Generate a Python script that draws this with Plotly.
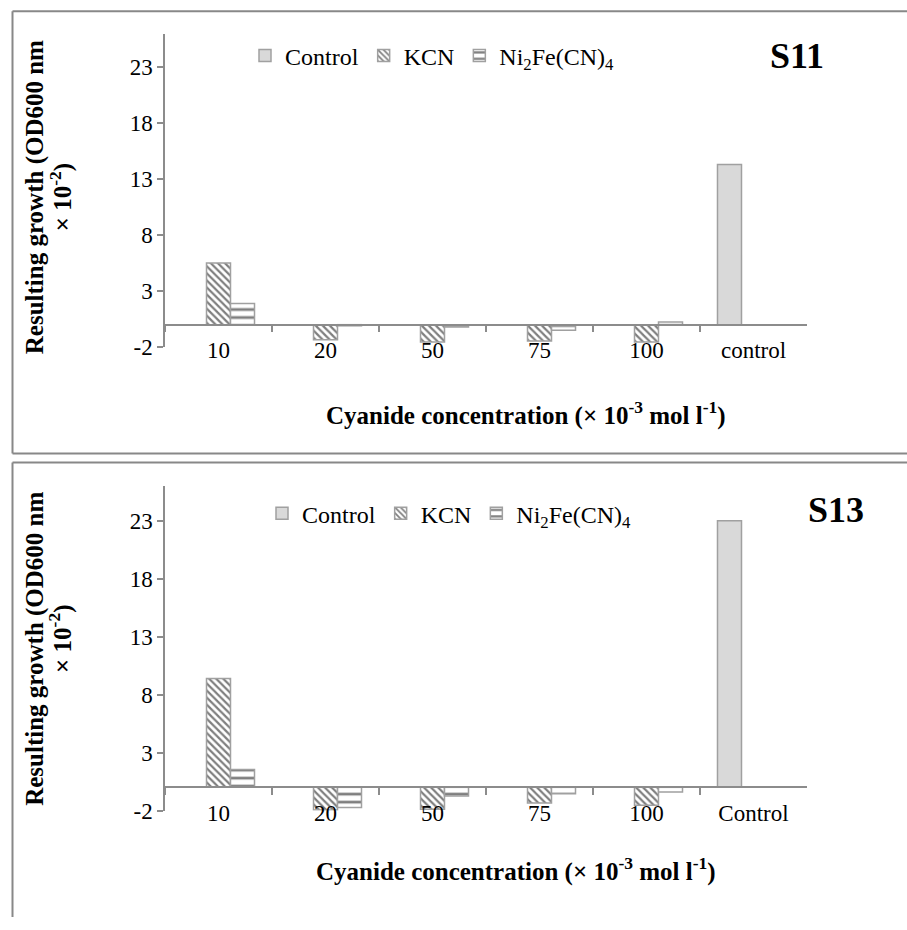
import plotly.graph_objects as go

# ---------------- data ----------------
categories_s11 = ["10", "20", "50", "75", "100", "control"]
categories_s13 = ["10", "20", "50", "75", "100", "Control"]

control_s11 = [None, None, None, None, None, 14.3]
kcn_s11 = [5.5, -1.35, -1.55, -1.45, -1.55, None]
ni_s11 = [1.9, -0.1, -0.2, -0.5, 0.25, None]

control_s13 = [None, None, None, None, None, 23.0]
kcn_s13 = [9.4, -1.95, -1.9, -1.35, -1.55, None]
ni_s13 = [1.55, -1.75, -0.75, -0.55, -0.4, None]

y_ticks = [-2, 3, 8, 13, 18, 23]
y_tick_labels = ["-2", "3", "8", "13", "18", "23"]
y_range = [-2, 26]

series_names = ["Control", "KCN", "Ni<sub>2</sub>Fe(CN)<sub>4</sub>"]

# ---------------- layout helpers ----------------
W, H = 907, 930
FONT = "Liberation Serif"
GRAY = "#a0a0a0"
AXGRAY = "#8c8c8c"


def px_x(p):
    return p / W


def px_y(p):
    return 1 - p / H


x_dom = [px_x(165), px_x(807)]
top_dom = [px_y(352), px_y(34)]
bot_dom = [px_y(822), px_y(493)]


def zero_pos(dom):
    return dom[0] + (0 - y_range[0]) / (y_range[1] - y_range[0]) * (dom[1] - dom[0])


fig = go.Figure()


def add_series(cats, ctrl, kcn, ni, xa, ya, legend):
    fig.add_trace(go.Bar(
        x=cats, y=ctrl, name=series_names[0], xaxis=xa, yaxis=ya, legend=legend,
        marker=dict(color="#d9d9d9", line=dict(color=GRAY, width=1.5))))
    fig.add_trace(go.Bar(
        x=cats, y=kcn, name=series_names[1], xaxis=xa, yaxis=ya, legend=legend,
        marker=dict(color="white", line=dict(color=GRAY, width=1.5),
                    pattern=dict(shape="\\", fgcolor="black", bgcolor="white",
                                 size=5, solidity=0.45))))
    fig.add_trace(go.Bar(
        x=cats, y=ni, name=series_names[2], xaxis=xa, yaxis=ya, legend=legend,
        marker=dict(color="white", line=dict(color=GRAY, width=1.5),
                    pattern=dict(shape="-", fgcolor="black", bgcolor="white",
                                 size=8, solidity=0.35))))


add_series(categories_s11, control_s11, kcn_s11, ni_s11, "x", "y", "legend")
add_series(categories_s13, control_s13, kcn_s13, ni_s13, "x2", "y2", "legend2")

TICKFONT = dict(family=FONT, size=23, color="black")

xaxis_common = dict(
    type="category", tickson="boundaries", ticks="outside", ticklen=7,
    tickcolor=AXGRAY, tickwidth=1.5, showline=True, linecolor=AXGRAY, linewidth=1.5,
    showgrid=False, zeroline=False, anchor="free", domain=x_dom,
    tickfont=TICKFONT, ticklabelstandoff=5,
)
yaxis_common = dict(
    range=y_range, tickvals=y_ticks, ticktext=y_tick_labels, ticks="outside",
    ticklen=6, tickcolor=AXGRAY, tickwidth=1.5, showline=True, linecolor=AXGRAY,
    linewidth=1.5, showgrid=False, zeroline=False, tickfont=TICKFONT,
)

LEGFONT = dict(family=FONT, size=24, color="black")

BORDER = dict(color="#888888", width=2)
border_lines = [
    # top panel box
    dict(x0=12.5, y0=11.5, x1=907, y1=11.5),
    dict(x0=12.5, y0=11.5, x1=12.5, y1=460),
    dict(x0=12.5, y0=460, x1=907, y1=460),
    # bottom panel box (open at right and bottom)
    dict(x0=12.5, y0=469, x1=907, y1=469),
    dict(x0=12.5, y0=469, x1=12.5, y1=930),
]
shapes = [dict(type="line", xref="paper", yref="paper",
               x0=px_x(b["x0"]), x1=px_x(b["x1"]), y0=px_y(b["y0"]), y1=px_y(b["y1"]),
               line=BORDER) for b in border_lines]

fig.update_layout(
    width=W, height=H,
    margin=dict(l=0, r=0, t=0, b=0),
    paper_bgcolor="white", plot_bgcolor="rgba(0,0,0,0)",
    barmode="group", bargap=0.327, bargroupgap=0,
    font=dict(family=FONT, color="black"),
    xaxis=dict(**xaxis_common, position=zero_pos(top_dom)),
    yaxis=dict(**yaxis_common, domain=top_dom, anchor="x"),
    xaxis2=dict(**xaxis_common, position=zero_pos(bot_dom)),
    yaxis2=dict(**yaxis_common, domain=bot_dom, anchor="x2"),
    legend=dict(orientation="h", x=px_x(245), y=px_y(34), xanchor="left", yanchor="top",
                font=LEGFONT, bgcolor="rgba(0,0,0,0)", traceorder="normal"),
    legend2=dict(orientation="h", x=px_x(262), y=px_y(498), xanchor="left", yanchor="top",
                 font=LEGFONT, bgcolor="rgba(0,0,0,0)", traceorder="normal"),
    shapes=shapes,
)

ytitle1 = "<b>Resulting growth (OD600 nm</b>"
ytitle2 = "<b>× 10<sup>-2</sup>)</b>"
xtitle = "<b>Cyanide concentration (× 10<sup>-3</sup> mol l<sup>-1</sup>)</b>"
TITLEFONT = dict(family=FONT, size=25, color="black")
annots = [
    dict(text=ytitle1, x=px_x(35), y=px_y(200), textangle=-90),
    dict(text=ytitle2, x=px_x(61), y=px_y(200), textangle=-90),
    dict(text=ytitle1, x=px_x(35), y=px_y(658), textangle=-90),
    dict(text=ytitle2, x=px_x(61), y=px_y(648), textangle=-90),
    dict(text=xtitle, x=px_x(526), y=px_y(419)),
    dict(text=xtitle, x=px_x(516), y=px_y(882)),
    dict(text="<b>S11</b>", x=px_x(797), y=px_y(57), font=dict(family=FONT, size=36, color="black")),
    dict(text="<b>S13</b>", x=px_x(836), y=px_y(517), font=dict(family=FONT, size=36, color="black")),
]
for a in annots:
    a.setdefault("font", TITLEFONT)
    fig.add_annotation(xref="paper", yref="paper", showarrow=False,
                       xanchor="center", yanchor="middle", **a)

fig.write_html("out.html", config={"displayModeBar": False},
               post_script="document.body.style.margin='0';")
